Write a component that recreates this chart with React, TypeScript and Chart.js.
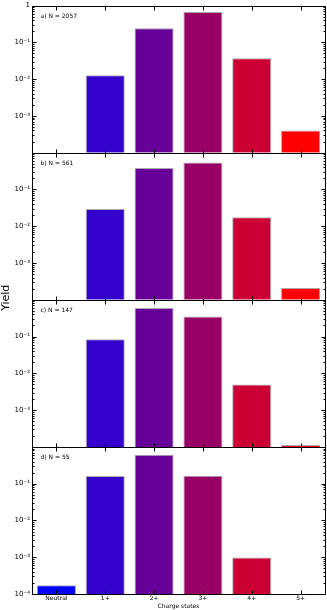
import React, { useEffect, useRef } from "react";
import { Chart, registerables } from "chart.js";

Chart.register(...registerables);

const categories = ["Neutral", "1+", "2+", "3+", "4+", "5+"];
const yieldA = [null, 0.0126, 0.24, 0.67, 0.037, 0.0004];
const yieldB = [null, 0.0295, 0.38, 0.54, 0.0175, 0.00021];
const yieldC = [null, 0.085, 0.6, 0.35, 0.005, 0.000112];
const yieldD = [0.000172, 0.162, 0.61, 0.165, 0.00098, null];
const panelLabels = ["a) N = 2057", "b) N = 561", "c) N = 147", "d) N = 55"];
const barColors = ["#0000ff", "#3300cc", "#660099", "#990066", "#cc0033", "#ff0000"];
const yMin = 1e-4;
const yMax = 1;
const decadeLabels: Record<number, string> = {
  0: "1",
  [-1]: "10\u207B\u00B9",
  [-2]: "10\u207B\u00B2",
  [-3]: "10\u207B\u00B3",
  [-4]: "10\u207B\u2074",
};
const xTitle = "Charge states";
const yTitle = "Yield";

const FONT = "'DejaVu Sans', sans-serif";
const axisIds = ["ya", "yb", "yc", "yd"];
const seriesList = [yieldA, yieldB, yieldC, yieldD];

function isDecade(v: number) {
  const l = Math.log10(v);
  return Math.abs(l - Math.round(l)) < 1e-6;
}

const framePlugin = {
  id: "frame",
  afterDraw(chart: any) {
    const ctx = chart.ctx;
    const area = chart.chartArea;
    const xScale = chart.scales.x;
    ctx.save();
    ctx.strokeStyle = "#000";
    ctx.lineWidth = 1;
    axisIds.forEach((id, i) => {
      const s = chart.scales[id];
      const top = Math.round(s.top) + 0.5;
      const bottom = Math.round(s.bottom) + 0.5;
      const left = Math.round(area.left) + 0.5;
      const right = Math.round(area.right) + 0.5;
      ctx.beginPath();
      ctx.rect(left, top, right - left, bottom - top);
      ctx.stroke();
      ctx.beginPath();
      for (let e = -4; e <= 0; e++) {
        for (let m = 1; m <= 9; m++) {
          const v = m * Math.pow(10, e);
          if (v > yMax * 1.0001) break;
          const y = Math.round(s.getPixelForValue(v)) + 0.5;
          const len = m === 1 ? 4 : 2;
          ctx.moveTo(left, y);
          ctx.lineTo(left + len, y);
          ctx.moveTo(right, y);
          ctx.lineTo(right - len, y);
        }
      }
      categories.forEach((_, k) => {
        const x = Math.round(xScale.getPixelForValue(k)) + 0.5;
        ctx.moveTo(x, top);
        ctx.lineTo(x, top + 4);
        ctx.moveTo(x, bottom);
        ctx.lineTo(x, bottom - 4);
      });
      ctx.stroke();
      ctx.fillStyle = "#000";
      ctx.font = `6px ${FONT}`;
      ctx.textAlign = "left";
      ctx.textBaseline = "middle";
      ctx.fillText(panelLabels[i], left + 8, s.top + 11);
    });
    ctx.save();
    ctx.translate(6, (area.top + area.bottom) / 2 - 2);
    ctx.rotate(-Math.PI / 2);
    ctx.textAlign = "center";
    ctx.textBaseline = "middle";
    ctx.font = `11px ${FONT}`;
    ctx.fillStyle = "#000";
    ctx.fillText(yTitle, 0, 0);
    ctx.restore();
    ctx.restore();
  },
};

export default function App() {
  const ref = useRef<HTMLCanvasElement>(null);

  useEffect(() => {
    if (!ref.current) return;
    const yScales: any = {};
    // Chart.js stacks later-defined left axes above earlier ones, so define bottom panel first
    for (let i = axisIds.length - 1; i >= 0; i--) {
      const id = axisIds[i];
      yScales[id] = {
        type: "logarithmic",
        position: "left",
        stack: "panels",
        stackWeight: 1,
        min: yMin,
        max: yMax,
        border: { display: false },
        grid: { display: false, drawTicks: false },
        afterFit: (scale: any) => {
          scale.width = 32;
        },
        ticks: {
          autoSkip: false,
          padding: 2,
          color: "#000",
          font: { family: FONT, size: 7, lineHeight: 1 },
          callback: (value: number) => {
            if (!isDecade(value)) return "";
            const e = Math.round(Math.log10(value));
            if (e === 0 && i !== 0) return "";
            if (e === -4 && i !== axisIds.length - 1) return "";
            return decadeLabels[e] ?? "";
          },
        },
      };
    }

    const chart = new Chart(ref.current, {
      type: "bar",
      data: {
        labels: categories,
        datasets: seriesList.map((data, i) => ({
          label: panelLabels[i],
          data: data as any,
          yAxisID: axisIds[i],
          backgroundColor: barColors,
          borderColor: "#aaaaaa",
          borderWidth: 1,
          grouped: false,
          barPercentage: 0.8,
          categoryPercentage: 1,
        })),
      },
      options: {
        responsive: false,
        animation: false,
        layout: { padding: { top: 3, right: 2, left: 0, bottom: 0 } },
        plugins: {
          legend: { display: false },
          tooltip: { enabled: false },
        },
        scales: {
          x: {
            type: "category",
            border: { display: false },
            grid: { display: false, drawTicks: false },
            afterFit: (scale: any) => {
              scale.height = 16;
            },
            ticks: {
              padding: 1,
              color: "#000",
              maxRotation: 0,
              font: { family: FONT, size: 6, lineHeight: 1 },
            },
            title: {
              display: true,
              text: xTitle,
              color: "#000",
              padding: 0,
              font: { family: FONT, size: 6, lineHeight: 1.2 },
            },
          },
          ...yScales,
        },
      },
      plugins: [framePlugin],
    });
    return () => chart.destroy();
  }, []);

  return (
    <div style={{ position: "absolute", left: 0, top: 0, width: 327, height: 610, background: "#fff" }}>
      <canvas ref={ref} width={327} height={610} style={{ display: "block" }} />
    </div>
  );
}
